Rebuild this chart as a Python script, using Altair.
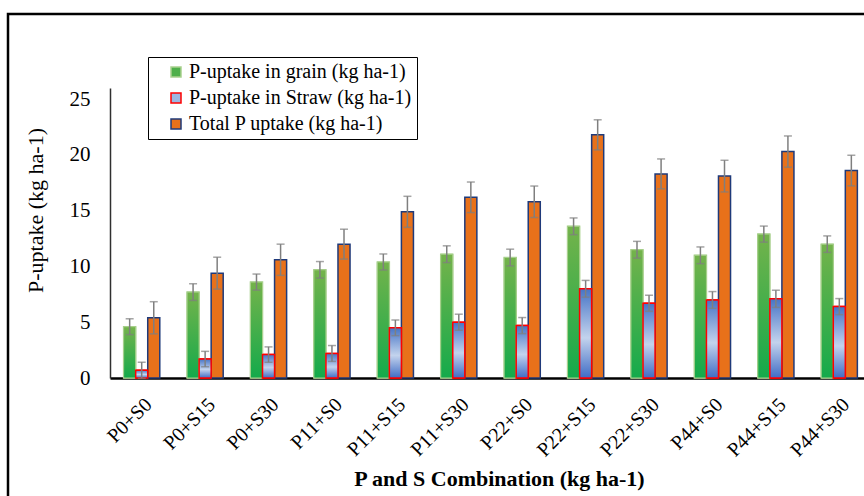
import altair as alt
import pandas as pd

categories = ["P0+S0", "P0+S15", "P0+S30", "P11+S0", "P11+S15", "P11+S30",
              "P22+S0", "P22+S15", "P22+S30", "P44+S0", "P44+S15", "P44+S30"]
series_names = ["P-uptake in grain (kg ha-1)",
                "P-uptake in Straw (kg ha-1)",
                "Total P uptake (kg ha-1)"]

grain = [4.6, 7.7, 8.6, 9.7, 10.4, 11.1, 10.8, 13.6, 11.5, 11.0, 12.9, 12.0]
straw = [0.7, 1.7, 2.1, 2.2, 4.5, 5.0, 4.7, 8.0, 6.7, 7.0, 7.1, 6.4]
total = [5.4, 9.4, 10.6, 12.0, 14.9, 16.2, 15.8, 21.8, 18.3, 18.1, 20.3, 18.6]

grain_err = [0.71, 0.75, 0.72, 0.74, 0.72, 0.75, 0.75, 0.75, 0.75, 0.75, 0.72, 0.74]
straw_err = [0.72, 0.69, 0.69, 0.71, 0.70, 0.72, 0.72, 0.75, 0.72, 0.75, 0.77, 0.72]
total_err = [1.44, 1.43, 1.40, 1.34, 1.39, 1.37, 1.41, 1.35, 1.34, 1.42, 1.40, 1.37]

fill_colors = ["#4EAF4A", "#9DB7E2", "#E8711A"]
stroke_colors = ["#A9D18E", "#FF0000", "#1F3A7A"]

rows = []
for i, c in enumerate(categories):
    for s, vals, errs in zip(series_names, [grain, straw, total], [grain_err, straw_err, total_err]):
        rows.append({"cat": c, "series": s, "value": vals[i],
                     "lo": vals[i] - errs[i], "hi": vals[i] + errs[i]})
df = pd.DataFrame(rows)

FONT = "Liberation Serif"

x_enc = alt.X("cat:N", sort=categories,
              scale=alt.Scale(paddingInner=0.43, paddingOuter=0.215),
              title="P and S Combination (kg ha-1)",
              axis=alt.Axis(domainColor="black", domainWidth=2.5, ticks=False,
                            labelFont=FONT, labelFontSize=20, labelColor="black",
                            labelAngle=315, labelAlign="right", labelBaseline="top",
                            labelPadding=16,
                            titleFont=FONT, titleFontSize=22, titleFontWeight="bold",
                            titleColor="black", titleX=389, titleY=107,
                            titleBaseline="alphabetic"))
xo = alt.XOffset("series:N", scale=alt.Scale(domain=series_names, paddingInner=0, paddingOuter=0))
y_enc = alt.Y("value:Q", scale=alt.Scale(domain=[0, 25]),
              title="P-uptake (kg ha-1)",
              axis=alt.Axis(values=[0, 5, 10, 15, 20, 25], grid=False, ticks=False,
                            domainColor="#303030", domainWidth=1.5,
                            labelFont=FONT, labelFontSize=21, labelColor="black",
                            labelPadding=20,
                            titleFont=FONT, titleFontSize=22, titleFontWeight="normal",
                            titleColor="black", titleAngle=270, titleX=-75, titleY=122,
                            titleAlign="center", titleBaseline="middle"))

leg = alt.Legend(title=None, orient="none", legendX=38, legendY=-31, direction="vertical",
                 strokeColor="black", padding=5, labelFont=FONT, labelFontSize=20,
                 labelColor="black", symbolType="square", symbolSize=100,
                 symbolStrokeWidth=1.5, symbolOffset=13, labelOffset=3, rowPadding=6,
                 labelLimit=400)

base = alt.Chart(df)

bars = base.mark_bar(strokeWidth=1.5).encode(
    x=x_enc, xOffset=xo, y=y_enc,
    fill=alt.Fill("series:N", scale=alt.Scale(domain=series_names, range=fill_colors), legend=leg),
    stroke=alt.Stroke("series:N", scale=alt.Scale(domain=series_names, range=stroke_colors), legend=leg),
)

grain_grad = base.transform_filter(alt.datum.series == series_names[0]).mark_bar(
    fill=alt.LinearGradient(gradient="linear", x1=0, x2=0, y1=0, y2=1,
                            stops=[alt.GradientStop(color="#74B34B", offset=0),
                                   alt.GradientStop(color="#14AA4B", offset=1)]),
    stroke="#A9D18E", strokeWidth=1
).encode(x=x_enc, xOffset=xo, y=y_enc)

straw_grad = base.transform_filter(alt.datum.series == series_names[1]).mark_bar(
    fill=alt.LinearGradient(gradient="linear", x1=0, x2=0, y1=0, y2=1,
                            stops=[alt.GradientStop(color="#4674C6", offset=0),
                                   alt.GradientStop(color="#C3D3ED", offset=0.55),
                                   alt.GradientStop(color="#3F6CC5", offset=1)]),
    stroke="#FF0000", strokeWidth=1.5
).encode(x=x_enc, xOffset=xo, y=y_enc)

err_rule = base.mark_rule(color="#7F7F7F", strokeWidth=1.5).encode(
    x=x_enc, xOffset=xo, y="lo:Q", y2="hi:Q")
cap_lo = base.mark_tick(color="#7F7F7F", thickness=1.5, size=8, orient="horizontal").encode(
    x=x_enc, xOffset=xo, y="lo:Q")
cap_hi = base.mark_tick(color="#7F7F7F", thickness=1.5, size=8, orient="horizontal").encode(
    x=x_enc, xOffset=xo, y="hi:Q")

frame = alt.Chart(pd.DataFrame({"k": [0]})).mark_rect(
    filled=False, stroke="black", strokeWidth=2.5, clip=False
).encode(x=alt.value(-102), x2=alt.value(800), y=alt.value(-74), y2=alt.value(450))

chart = alt.layer(frame, bars, grain_grad, straw_grad, err_rule, cap_lo, cap_hi).properties(
    width=761, height=290,
    autosize=alt.AutoSizeParams(type="none"),
    padding={"left": 110, "top": 88, "right": -7, "bottom": 118},
    background="white",
).configure_view(stroke=None)

chart.save("out.html", embed_options={"renderer": "svg", "actions": False})
